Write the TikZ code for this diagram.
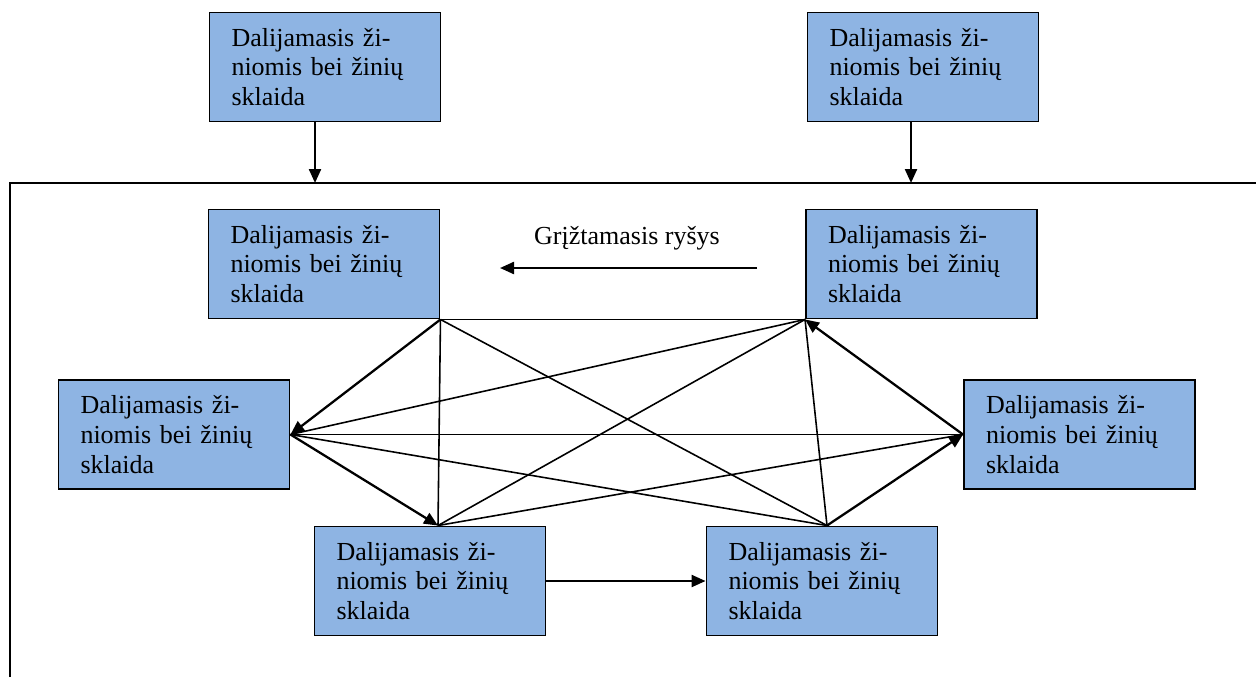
\documentclass[tikz,border=0pt]{standalone}
\usepackage{fontspec}
\setmainfont{Liberation Serif}
\usepackage{tikz}
\usetikzlibrary{positioning, arrows.meta}
\definecolor{boxblue}{HTML}{8EB4E3}

\begin{document}
\begin{tikzpicture}[
        block/.style={
          rectangle,
          draw=black,
          line width=1.1pt,
          fill=boxblue,
          text width=3.74cm,
          inner xsep=0.44cm,
          inner ysep=0pt,
          align=left,
          minimum height=2.18cm,
          font=\fontsize{14.8}{17}\selectfont
        },
        arrow/.style={
          -{Triangle[length=0.28cm, width=0.24cm]},
          draw=black,
          line width=1.3pt
        },
        link/.style={
          draw=black,
          line width=0.9pt
        }
      ]
      \useasboundingbox (0,0) rectangle (25.12,-13.54);

      % Frame
      \coordinate (ftop) at (0.2,-3.66);
      \coordinate (fright) at (25.12,-3.66);
      \coordinate (fbottom) at (0.2,-13.54);
      \draw [line width=1.1pt] (fbottom) -- (ftop) -- (fright);

      % Nodes
      \node [block] (t1) at (6.5,-1.34) {Dalijamasis ži-\\niomis bei žinių\\sklaida};
      \node [block] (t2) at (18.46,-1.34) {Dalijamasis ži-\\niomis bei žinių\\sklaida};
      \node [block] (a) at (6.48,-5.28) {Dalijamasis ži-\\niomis bei žinių\\sklaida};
      \node [block] (b) at (18.43,-5.28) {Dalijamasis ži-\\niomis bei žinių\\sklaida};
      \node [block] (c) at (3.48,-8.69) {Dalijamasis ži-\\niomis bei žinių\\sklaida};
      \node [block] (d) at (21.59,-8.69) {Dalijamasis ži-\\niomis bei žinių\\sklaida};
      \node [block] (e) at (8.6,-11.62) {Dalijamasis ži-\\niomis bei žinių\\sklaida};
      \node [block] (f) at (16.44,-11.62) {Dalijamasis ži-\\niomis bei žinių\\sklaida};

      \coordinate (eh) at ([xshift=0.16cm]e.north);
      \coordinate (fh) at ([xshift=0.1cm]f.north);

      % Arrows into the frame
      \draw [arrow] ([xshift=-0.2cm]t1.south) -- ([xshift=-0.2cm]t1.south |- ftop);
      \draw [arrow] ([xshift=-0.24cm]t2.south) -- ([xshift=-0.24cm]t2.south |- ftop);

      % Feedback
      \coordinate (fbs) at (15.14,-5.36);
      \coordinate (fbe) at (10.0,-5.36);
      \draw [arrow] (fbs) -- (fbe);
      \node [font=\fontsize{14.8}{17}\selectfont] (fbl) at (12.54,-4.76) {Grįžtamasis ryšys};

      % Links
      \draw [link] (a.south east) -- (b.south west);
      \draw [link] (a.south east) -- (eh);
      \draw [link] (a.south east) -- (fh);
      \draw [link] (b.south west) -- (c.east);
      \draw [link] (b.south west) -- (eh);
      \draw [link] (b.south west) -- (fh);
      \draw [link] (c.east) -- (d.west);
      \draw [link] (c.east) -- (fh);
      \draw [link] (eh) -- (d.west);

      % Cycle
      \draw [arrow] (a.south east) -- (c.east);
      \draw [arrow] (c.east) -- (eh);
      \draw [arrow] (e.east) -- (f.west);
      \draw [arrow] (fh) -- (d.west);
      \draw [arrow] (d.west) -- (b.south west);

    \end{tikzpicture}
\end{document}
